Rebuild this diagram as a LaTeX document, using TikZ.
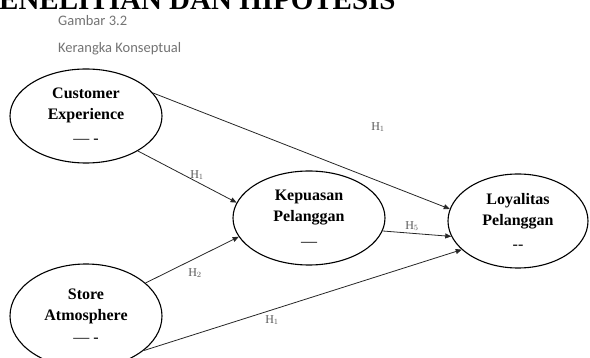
\documentclass[tikz,border=0pt]{standalone}
\usepackage{fontspec}
\setmainfont{Liberation Serif}
\newfontfamily\capfont{Carlito}
\usepackage{tikz}
\usetikzlibrary{arrows.meta,positioning,shapes.geometric}
\tikzset{
  konstruk/.style={ellipse, draw, line width=1.1pt, minimum width=152pt, minimum height=94pt, inner sep=0pt, align=center, font=\fontsize{16}{21}\selectfont\bfseries},
  hub/.style={-{Triangle[length=6pt, width=5pt]}, line width=0.8pt, black!85},
  hlab/.style={font=\fontsize{12}{12}\selectfont, text=black!65, inner sep=0pt},
  keterangan/.style={font=\capfont\fontsize{14.5}{15}\selectfont, text=black!55, anchor=west, inner sep=0pt},
}

\begin{document}
\begin{tikzpicture}[x=1pt, y=-1pt]
\clip (0,0) rectangle (590,358);
\node[font=\fontsize{29}{29}\selectfont\bfseries, anchor=base west, inner sep=0pt] (judul) at (-1,10) {ENELITIAN DAN HIPOTESIS};
\node[keterangan] (gambar) at (58,21) {Gambar 3.2};
\node[keterangan] (kerangka) at (58,49) {Kerangka Konseptual};
% variabel
\node[konstruk] (ce) at (86,116) {Customer\\Experience\\[3pt]{\mdseries --- -}};
\node[konstruk, minimum height=104pt] (sa) at (86,316) {Store\\Atmosphere\\[1pt]{\mdseries --- -}};
\node[konstruk] (kp) at (309,218) {Kepuasan\\Pelanggan\\[4pt]{\mdseries ---}};
\node[konstruk, minimum width=140pt] (lp) at (518,221) {Loyalitas\\Pelanggan\\[3pt]{\mdseries -{}-}};
% hipotesis
\draw[hub] (ce.19) -- (lp.170);
\draw[hub] (ce.-34) -- (kp.168);
\draw[hub] (sa.29) -- (kp.-165);
\draw[hub] (kp.-10) -- (lp.-167);
\draw[hub] (sa.-31) -- (lp.-153);
\node[hlab] (h1) at (378,127) {H$_1$};
\node[hlab] (h3) at (197,175) {H$_1$};
\node[hlab] (h2) at (195,273) {H$_2$};
\node[hlab] (h5) at (412,226) {H$_5$};
\node[hlab] (h4) at (272,320) {H$_1$};
\end{tikzpicture}
\end{document}
